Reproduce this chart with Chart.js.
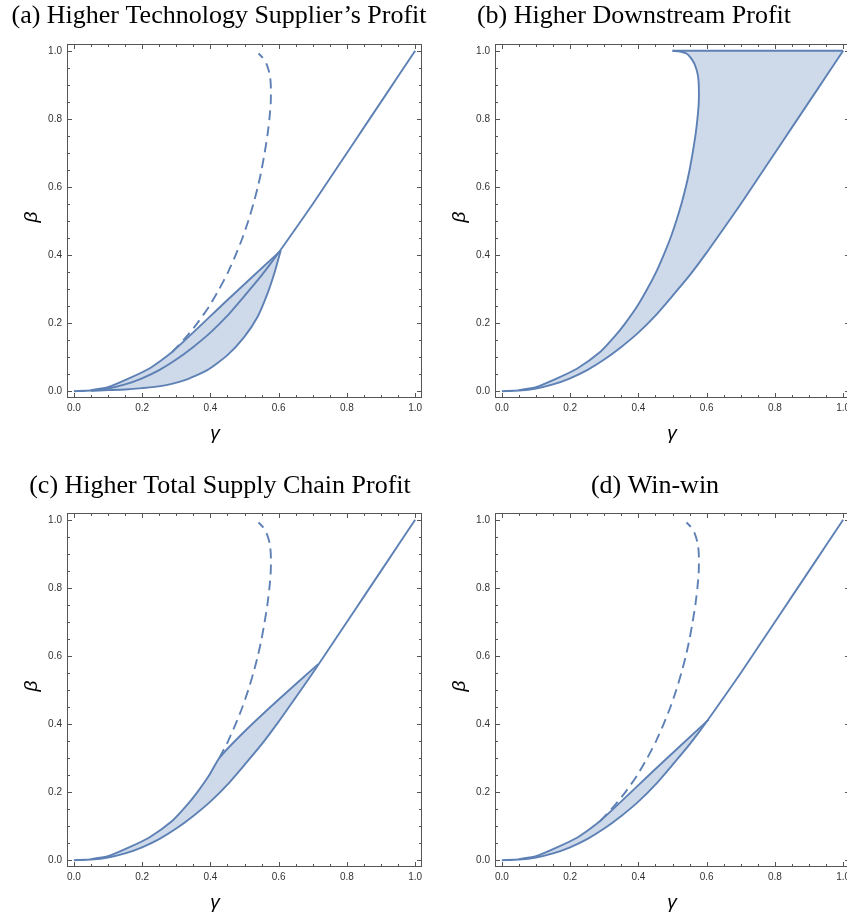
<!DOCTYPE html>
<html>
<head>
<meta charset="utf-8">
<script src="https://cdn.jsdelivr.net/npm/chart.js@4.4.1/dist/chart.umd.min.js"></script>
<style>
  html, body { margin: 0; padding: 0; background: #fff; width: 847px; height: 920px; overflow: hidden; }
  canvas { position: absolute; }
</style>
</head>
<body>
<canvas id="pa" width="430" height="455" style="left:0;top:0"></canvas>
<canvas id="pb" width="430" height="455" style="left:428px;top:0"></canvas>
<canvas id="pc" width="430" height="455" style="left:0;top:469px"></canvas>
<canvas id="pd" width="430" height="455" style="left:428px;top:469px"></canvas>
<script>
// S-shaped boundary (solid, runs from (0,0) to (1,1) in every panel)
const sGamma = [0, 0.05, 0.1, 0.15, 0.2, 0.25, 0.3, 0.35, 0.4, 0.45, 0.5, 0.55, 0.6, 0.65, 0.7, 0.75, 0.8, 0.85, 0.9, 0.95, 1.0];
const sBeta  = [0, 0.002, 0.008, 0.02, 0.038, 0.062, 0.093, 0.13, 0.172, 0.222, 0.28, 0.34, 0.407, 0.478, 0.55, 0.625, 0.70, 0.775, 0.85, 0.925, 1.0];

// backward-bending curve (dashed in a, c, d; left edge of the region in b)
const dGamma = [0.05, 0.10, 0.16, 0.22, 0.288, 0.330, 0.362, 0.397, 0.426, 0.452, 0.474, 0.494, 0.511, 0.526, 0.539, 0.550, 0.559, 0.567, 0.573, 0.577, 0.577, 0.574, 0.565, 0.553, 0.541, 0.522, 0.50];
const dBeta  = [0.003, 0.012, 0.037, 0.066, 0.115, 0.16, 0.2, 0.25, 0.3, 0.35, 0.4, 0.45, 0.5, 0.55, 0.6, 0.65, 0.7, 0.75, 0.8, 0.85, 0.9, 0.93, 0.96, 0.98, 0.992, 0.998, 1.0];

// upper edge of the region in (a) and (d)
const uGamma = [0.05, 0.10, 0.16, 0.22, 0.288, 0.45, 0.606];
const uBeta  = [0.003, 0.012, 0.037, 0.066, 0.115, 0.268, 0.413];

// lower edge of the region in (a)
const lGamma = [0.05, 0.1, 0.15, 0.2, 0.254, 0.323, 0.391, 0.45, 0.499, 0.538, 0.567, 0.587, 0.601, 0.606];
const lBeta  = [0.001, 0.003, 0.005, 0.009, 0.015, 0.032, 0.062, 0.106, 0.159, 0.218, 0.286, 0.345, 0.395, 0.413];

// upper edge of the region in (c)
const cGamma = [0.05, 0.10, 0.16, 0.22, 0.288, 0.330, 0.362, 0.397, 0.426, 0.5, 0.6, 0.716];
const cBeta  = [0.003, 0.012, 0.037, 0.066, 0.115, 0.16, 0.2, 0.25, 0.3, 0.378, 0.472, 0.576];

// top edge of the region in (b)
const topGamma = [0.5, 1.0];
const topBeta  = [1.0, 1.0];

const majorTicks = [0, 0.2, 0.4, 0.6, 0.8, 1.0];
const minorTicks = [0.05, 0.1, 0.15, 0.25, 0.3, 0.35, 0.45, 0.5, 0.55, 0.65, 0.7, 0.75, 0.85, 0.9, 0.95];

const titles = [
  '(a) Higher Technology Supplier\u2019s Profit',
  '(b) Higher Downstream Profit',
  '(c) Higher Total Supply Chain Profit',
  '(d) Win-win'
];

const blue = '#5E81B5';
const shade = 'rgba(94,129,181,0.3)';

function pts(gs, bs) {
  return gs.map((g, i) => ({ x: g, y: bs[i] }));
}
function betaRange(gs, bs, lo, hi) {
  return pts(gs, bs).filter(p => p.y >= lo && p.y <= hi);
}
function sUpTo(g) {
  return pts(sGamma, sBeta).filter(p => p.x < g && p.x >= 0.05);
}

function line(data, dashed) {
  return {
    data: data,
    borderColor: blue,
    borderWidth: 1.9,
    borderDash: dashed ? [10, 6] : [],
    pointRadius: 0,
    tension: 0.2,
    fill: false,
    order: 1
  };
}
function region(data) {
  return {
    data: data,
    borderWidth: 0,
    borderColor: 'rgba(0,0,0,0)',
    backgroundColor: shade,
    pointRadius: 0,
    tension: 0,
    fill: 'shape',
    order: 5
  };
}

const panels = [
  {
    id: 'pa', titleX: 219, titleY: 16, gx: 215,
    datasets: [
      line(pts(sGamma, sBeta)),
      line(pts(uGamma, uBeta)),
      line(pts(lGamma, lBeta)),
      line(betaRange(dGamma, dBeta, 0.115, 0.992), true),
      region(pts(uGamma, uBeta).concat(pts(lGamma, lBeta).reverse()))
    ]
  },
  {
    id: 'pb', titleX: 206, titleY: 16, gx: 244,
    datasets: [
      line(pts(sGamma, sBeta)),
      line(pts(dGamma, dBeta)),
      line(pts(topGamma, topBeta)),
      region(pts(dGamma, dBeta).concat(pts(sGamma, sBeta).filter(p => p.x >= 0.05).reverse()))
    ]
  },
  {
    id: 'pc', titleX: 220, titleY: 17, gx: 215,
    datasets: [
      line(pts(sGamma, sBeta)),
      line(pts(cGamma, cBeta)),
      line(betaRange(dGamma, dBeta, 0.3, 0.992), true),
      region(pts(cGamma, cBeta).concat(sUpTo(0.716).reverse()))
    ]
  },
  {
    id: 'pd', titleX: 227, titleY: 17, gx: 244,
    datasets: [
      line(pts(sGamma, sBeta)),
      line(pts(uGamma, uBeta)),
      line(betaRange(dGamma, dBeta, 0.115, 0.992), true),
      region(pts(uGamma, uBeta).concat(sUpTo(0.606).reverse()))
    ]
  }
];

// Mathematica-style frame with inward ticks on all four sides
const frameTicks = {
  id: 'frameTicks',
  afterDatasetsDraw(chart) {
    const { ctx, chartArea: a, scales: { x, y } } = chart;
    ctx.save();
    ctx.strokeStyle = '#555';
    ctx.lineWidth = 1;
    ctx.strokeRect(a.left + 0.5, a.top + 0.5, a.right - a.left - 1, a.bottom - a.top - 1);
    ctx.beginPath();
    const marks = majorTicks.map(v => [v, 5]).concat(minorTicks.map(v => [v, 3]));
    marks.forEach(([v, len]) => {
      const px = Math.round(x.getPixelForValue(v)) + 0.5;
      const py = Math.round(y.getPixelForValue(v)) + 0.5;
      ctx.moveTo(px, a.bottom); ctx.lineTo(px, a.bottom - len);
      ctx.moveTo(px, a.top); ctx.lineTo(px, a.top + len);
      ctx.moveTo(a.left, py); ctx.lineTo(a.left + len, py);
      ctx.moveTo(a.right, py); ctx.lineTo(a.right - len, py);
    });
    ctx.stroke();
    ctx.restore();
  }
};

// panel title and axis labels
const panelText = {
  id: 'panelText',
  afterDraw(chart, args, opts) {
    const ctx = chart.ctx;
    ctx.save();
    ctx.fillStyle = '#000';
    ctx.textAlign = 'center';
    ctx.textBaseline = 'middle';
    ctx.font = '26px "Liberation Serif"';
    ctx.fillText(opts.title, opts.titleX, opts.titleY);
    ctx.font = 'italic 19px "Liberation Sans"';
    ctx.fillText('\u03B3', opts.gx, 434);
    ctx.translate(32, 217);
    ctx.rotate(-Math.PI / 2);
    ctx.fillText('\u03B2', 0, 0);
    ctx.restore();
  }
};

function axis(isX) {
  return {
    type: 'linear',
    min: -0.02,
    max: 1.02,
    grid: { display: false, drawTicks: false },
    border: { display: false },
    afterBuildTicks: s => { s.ticks = majorTicks.map(v => ({ value: v })); },
    afterFit: s => { if (isX) s.height = 57; else s.width = 67; },
    ticks: {
      autoSkip: false,
      maxRotation: 0,
      padding: isX ? 4 : 5,
      color: '#333',
      font: { family: 'Liberation Sans', size: 10 },
      callback: v => Number(v).toFixed(1)
    }
  };
}

panels.forEach((p, i) => {
  new Chart(document.getElementById(p.id), {
    type: 'line',
    data: { datasets: p.datasets },
    options: {
      responsive: false,
      animation: false,
      layout: { padding: { top: 44, right: 8, left: 0, bottom: 0 } },
      scales: { x: axis(true), y: axis(false) },
      plugins: {
        legend: { display: false },
        tooltip: { enabled: false },
        panelText: { title: titles[i], titleX: p.titleX, titleY: p.titleY, gx: p.gx }
      }
    },
    plugins: [frameTicks, panelText]
  });
});
</script>
</body>
</html>
